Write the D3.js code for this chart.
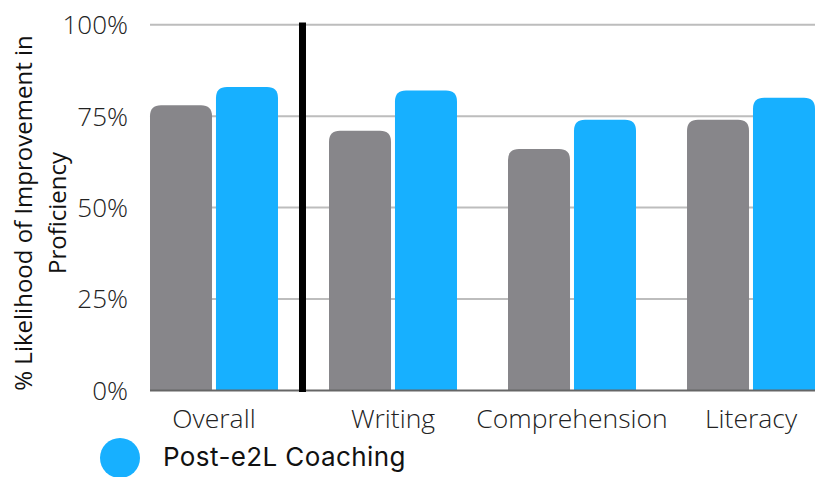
<!DOCTYPE html>
<html><head><meta charset="utf-8">
<script src="https://cdn.jsdelivr.net/npm/d3@7"></script>
<style>body{margin:0;background:#fff}svg{display:block}</style>
</head><body>
<script>
const categories = ["Overall", "Writing", "Comprehension", "Literacy"];
const preValues = [78, 71, 66, 74];
const postValues = [83, 82, 74, 80];
const yTicks = [0, 25, 50, 75, 100];
const legendLabel = "Post-e2L Coaching";

const W = 825, H = 477;
const svg = d3.select("body").append("svg").attr("width", W).attr("height", H);

const x = d3.scaleBand().domain(categories).range([150, 815]).paddingInner(0.285).paddingOuter(0);
const bw = x.bandwidth();
const inner = d3.scaleBand().domain(["pre", "post"]).range([0, bw]).paddingInner(0.06);
const y = d3.scaleLinear().domain([0, 100]).range([390.5, 24.7]);

// gridlines
svg.append("g").selectAll("line").data(yTicks.filter(d => d > 0)).join("line")
  .attr("x1", 150).attr("x2", 815).attr("y1", d => y(d)).attr("y2", d => y(d))
  .attr("stroke", "#bdbdbd").attr("stroke-width", 2);

// y tick labels
svg.append("g").selectAll("text").data(yTicks).join("text")
  .attr("x", 128).attr("y", d => y(d)).attr("dy", "0.36em")
  .attr("text-anchor", "end")
  .attr("font-family", "'Open Sans'").attr("font-weight", 300)
  .attr("font-size", 26).attr("fill", "#222")
  .text(d => d + "%");

function topRounded(x0, y0, w, h, r) {
  r = Math.min(r, h, w / 2);
  return `M${x0},${y0 + h}V${y0 + r}Q${x0},${y0} ${x0 + r},${y0}H${x0 + w - r}Q${x0 + w},${y0} ${x0 + w},${y0 + r}V${y0 + h}Z`;
}

const rows = categories.map((c, i) => ({ c, pre: preValues[i], post: postValues[i] }));
const groups = svg.append("g").selectAll("g").data(rows).join("g")
  .attr("transform", d => `translate(${x(d.c)},0)`);
groups.append("path").attr("fill", "#87868a")
  .attr("d", d => topRounded(inner("pre"), y(d.pre), inner.bandwidth(), y(0) - y(d.pre), 11));
groups.append("path").attr("fill", "#17b0ff")
  .attr("d", d => topRounded(inner("post"), y(d.post), inner.bandwidth(), y(0) - y(d.post), 11));

// baseline
svg.append("line").attr("x1", 150).attr("x2", 815).attr("y1", y(0)).attr("y2", y(0))
  .attr("stroke", "#666").attr("stroke-width", 2);

// separator
const sepX = (x("Overall") + bw + x("Writing")) / 2 - 1;
svg.append("line").attr("x1", sepX).attr("x2", sepX).attr("y1", 22.5).attr("y2", 392)
  .attr("stroke", "#000").attr("stroke-width", 7);

// x labels
svg.append("g").selectAll("text").data(categories).join("text")
  .attr("x", d => x(d) + bw / 2).attr("y", 428)
  .attr("text-anchor", "middle")
  .attr("font-family", "'Open Sans'").attr("font-weight", 300)
  .attr("font-size", 26.5).attr("fill", "#222")
  .text(d => d);

// y axis title
const title = svg.append("text")
  .attr("transform", "translate(0,213) rotate(-90)")
  .attr("text-anchor", "middle")
  .attr("font-family", "'Open Sans'").attr("font-size", 24).attr("fill", "#111");
title.append("tspan").attr("x", 0).attr("y", 32).text("% Likelihood of Improvement in");
title.append("tspan").attr("x", 0).attr("y", 66).text("Proficiency");

// legend
svg.append("circle").attr("cx", 120).attr("cy", 458).attr("r", 20).attr("fill", "#17b0ff");
svg.append("text").attr("x", 163).attr("y", 466)
  .attr("font-family", "Inter").attr("font-size", 26).attr("letter-spacing", 0.4).attr("fill", "#111")
  .text(legendLabel);
</script>
</body></html>
